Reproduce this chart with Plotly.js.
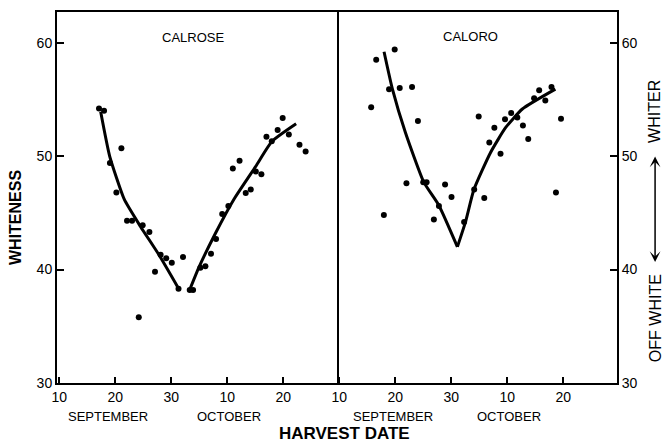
<!DOCTYPE html>
<html>
<head>
<meta charset="utf-8">
<script src="https://cdn.plot.ly/plotly-3.0.1.min.js"></script>
<style>html,body{margin:0;padding:0;background:#fff;}#chart{width:664px;height:446px;}</style>
</head>
<body>
<div id="chart"></div>
<script>
// Harvest day counted from Sept 1 (Oct 10 = 40, Oct 20 = 50)
var calroseDays = [17.1, 18.0, 19.05, 20.2, 21.1, 22.1, 23.0, 24.2, 24.9, 26.1, 27.1, 28.1, 29.1, 30.1, 31.3, 32.1, 33.3, 33.9, 35.2, 36.1, 37.1, 38.0, 39.1, 40.2, 41.0, 42.2, 43.3, 44.2, 45.1, 46.1, 47.0, 47.95, 49.0, 49.9, 51.0, 52.9, 54.0];
var calroseVals = [54.2, 54.0, 49.4, 46.8, 50.7, 44.3, 44.3, 35.8, 43.9, 43.3, 39.8, 41.3, 41.0, 40.6, 38.3, 41.1, 38.2, 38.2, 40.15, 40.3, 41.4, 42.7, 44.9, 45.6, 48.9, 49.6, 46.75, 47.05, 48.65, 48.4, 51.7, 51.3, 52.3, 53.35, 51.9, 51.0, 50.4];

var caloroDays = [15.7, 16.6, 17.97, 18.9, 19.9, 20.8, 22.0, 23.0, 24.05, 25.0, 25.6, 26.9, 27.8, 28.9, 30.05, 32.3, 34.1, 34.9, 35.9, 36.8, 37.7, 38.8, 39.6, 40.7, 41.8, 42.8, 43.75, 44.8, 45.7, 46.8, 47.9, 48.7, 49.6];
var caloroVals = [54.3, 58.5, 44.8, 55.9, 59.4, 56.0, 47.6, 56.1, 53.1, 47.7, 47.7, 44.4, 45.6, 47.5, 46.4, 44.2, 47.05, 53.5, 46.3, 51.2, 52.5, 50.2, 53.25, 53.8, 53.4, 52.7, 51.5, 55.1, 55.8, 54.9, 56.1, 46.8, 53.3];

var calroseFitDays = [17.4, 19.0, 21.6, 24.5, 27.8, 31.4, null, 33.2, 34.9, 37.9, 41.2, 45.1, 48.0, 52.3];
var calroseFitVals = [53.9, 50.0, 46.2, 43.8, 41.3, 38.25, null, 38.1, 40.15, 43.2, 46.2, 49.1, 51.3, 52.85];

var caloroFitDays = [18.0, 19.5, 21.8, 25.1, 27.8, 31.1, null, 31.1, 32.55, 34.05, 37.0, 39.7, 42.7, 48.6];
var caloroFitVals = [59.2, 55.9, 52.1, 47.7, 45.65, 42.0, null, 42.0, 44.2, 47.05, 50.3, 52.5, 54.15, 55.9];

var xTickVals = [10, 20, 30, 40, 50];
var xTickText = ['10', '20', '30', '10', '20'];
var yTickVals = [30, 40, 50, 60];

var font = 'Liberation Sans, Arial, sans-serif';
var markerStyle = {color: '#000', size: 6};
var lineStyle = {color: '#000', width: 3, shape: 'spline', smoothing: 0.5};

var traces = [
  {x: calroseDays, y: calroseVals, mode: 'markers', marker: markerStyle, xaxis: 'x', yaxis: 'y', hoverinfo: 'skip'},
  {x: calroseFitDays, y: calroseFitVals, mode: 'lines', line: lineStyle, connectgaps: false, xaxis: 'x', yaxis: 'y', hoverinfo: 'skip'},
  {x: caloroDays, y: caloroVals, mode: 'markers', marker: markerStyle, xaxis: 'x2', yaxis: 'y2', hoverinfo: 'skip'},
  {x: caloroFitDays, y: caloroFitVals, mode: 'lines', line: lineStyle, connectgaps: false, xaxis: 'x2', yaxis: 'y2', hoverinfo: 'skip'}
];

function xAx(domain, anchor) {
  return {domain: domain, anchor: anchor, range: [9.6, 59.6], tickvals: xTickVals, ticktext: xTickText,
    ticks: 'inside', ticklen: 6, tickwidth: 2, tickcolor: '#000', showline: true, linewidth: 2, linecolor: '#000',
    mirror: true, showgrid: false, zeroline: false, tickfont: {family: font, size: 14, color: '#000'}};
}
function yAx(anchor, side, mirror) {
  return {domain: [0, 1], anchor: anchor, side: side, range: [30, 62.7], tickvals: yTickVals,
    ticks: 'inside', ticklen: 7, tickwidth: 2, tickcolor: '#000', showline: true, linewidth: 2, linecolor: '#000',
    mirror: mirror, showgrid: false, zeroline: false, tickfont: {family: font, size: 14, color: '#000'}};
}

var ann = function(text, x, y, size, angle, bold) {
  return {text: bold ? '<b>' + text + '</b>' : text, x: x, y: y, xref: 'paper', yref: 'paper', showarrow: false,
    textangle: angle || 0, font: {family: font, size: size, color: '#000'}, xanchor: 'center', yanchor: 'middle'};
};

var layout = {
  width: 664, height: 446,
  margin: {l: 57, r: 47, t: 12, b: 63},
  paper_bgcolor: '#fff', plot_bgcolor: '#fff',
  showlegend: false,
  xaxis: xAx([0, 0.5], 'y'),
  yaxis: yAx('x', 'left', true),
  xaxis2: xAx([0.5, 1], 'y2'),
  yaxis2: yAx('x2', 'right', false),
  annotations: [
    ann('CALROSE', 0.243, 0.93, 13),
    ann('CALORO', 0.7375, 0.933, 13),
    ann('SEPTEMBER', 0.091, -0.089, 13),
    ann('OCTOBER', 0.307, -0.089, 13),
    ann('SEPTEMBER', 0.6, -0.089, 13),
    ann('OCTOBER', 0.807, -0.089, 13),
    ann('HARVEST DATE', 0.5125, -0.135, 17, 0, true),
    ann('WHITENESS', -0.073, 0.445, 16, -90, true),
    ann('WHITER', 1.068, 0.731, 16, -90),
    ann('OFF WHITE', 1.068, 0.175, 16, -90),
    {text: '', x: 1.068, y: 0.326, xref: 'paper', yref: 'paper', showarrow: true, ax: 0, ay: -107,
     axref: 'pixel', ayref: 'pixel', arrowside: 'end+start', arrowhead: 3, startarrowhead: 3, arrowwidth: 1.5, arrowcolor: '#000', arrowsize: 1.2, startarrowsize: 1.2}
  ]
};

Plotly.newPlot('chart', traces, layout, {displayModeBar: false, staticPlot: true});
</script>
</body>
</html>
